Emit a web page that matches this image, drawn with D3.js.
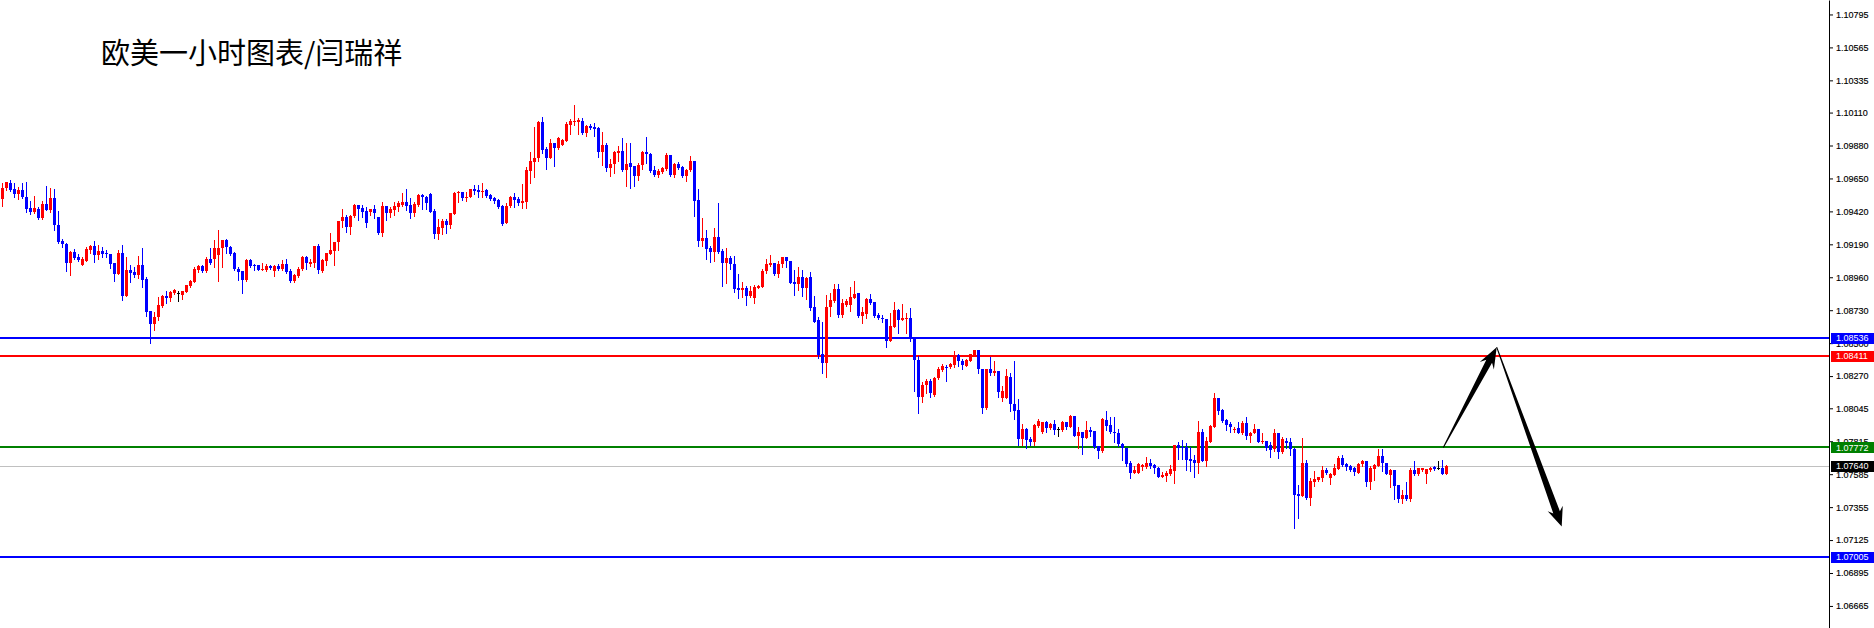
<!DOCTYPE html>
<html><head><meta charset="utf-8">
<script src="https://cdn.jsdelivr.net/npm/d3@7"></script>
<style>
html,body{margin:0;padding:0;background:#fff;overflow:hidden;}
svg{display:block;}
</style></head><body>
<svg id="chart" width="1874" height="628"></svg>
<script>
const title = "欧美一小时图表/闫瑞祥";

const open = [
1.09504,1.09581,1.09616,1.09574,1.09544,1.09569,1.09518,1.09444,1.09418,1.09434,
1.09374,1.09472,1.09430,1.09514,1.09323,1.09213,1.09192,1.09061,1.09136,1.09101,
1.09047,1.09075,1.09152,1.09178,1.09113,1.09143,1.09129,1.09124,1.09057,1.08980,
1.09127,1.08831,1.09010,1.08996,1.08975,1.09043,1.08947,1.08721,1.08635,1.08686,
1.08761,1.08828,1.08817,1.08847,1.08847,1.08835,1.08859,1.08898,1.08929,1.09010,
1.09038,1.09005,1.09087,1.09089,1.09117,1.09162,1.09220,1.09173,1.09129,1.09015,
1.09003,1.08940,1.09082,1.09045,1.09043,1.09010,1.09010,1.09036,1.09001,1.09038,
1.09015,1.09050,1.09003,1.08937,1.08972,1.09015,1.09101,1.09052,1.09059,1.09178,
1.09007,1.09075,1.09119,1.09145,1.09203,1.09352,1.09383,1.09313,1.09387,1.09464,
1.09446,1.09425,1.09418,1.09436,1.09383,1.09271,1.09457,1.09411,1.09429,1.09452,
1.09464,1.09485,1.09464,1.09411,1.09464,1.09534,1.09522,1.09539,1.09422,1.09261,
1.09306,1.09352,1.09324,1.09404,1.09546,1.09553,1.09515,1.09522,1.09576,1.09569,
1.09560,1.09569,1.09532,1.09515,1.09499,1.09457,1.09341,1.09457,1.09522,1.09506,
1.09478,1.09487,1.09704,1.09767,1.09790,1.10047,1.09853,1.09795,1.09895,1.09865,
1.09884,1.09914,1.10026,1.10047,1.10047,1.10051,1.09970,1.10019,1.10012,1.10002,
1.09835,1.09884,1.09725,1.09753,1.09830,1.09842,1.09709,1.09758,1.09737,1.09667,
1.09744,1.09837,1.09823,1.09709,1.09674,1.09697,1.09716,1.09814,1.09674,1.09751,
1.09732,1.09667,1.09709,1.09772,1.09499,1.09215,1.09236,1.09166,1.09138,1.09243,
1.09143,1.09062,1.09097,1.09052,1.08885,1.08871,1.08885,1.08831,1.08817,1.08887,
1.08894,1.09001,1.09045,1.09062,1.08982,1.09050,1.09104,1.09076,1.08929,1.08910,
1.08964,1.08882,1.08964,1.08749,1.08661,1.08423,1.08358,1.08749,1.08796,1.08878,
1.08696,1.08766,1.08766,1.08817,1.08847,1.08691,1.08701,1.08808,1.08784,1.08696,
1.08675,1.08670,1.08516,1.08614,1.08731,1.08661,1.08668,1.08673,1.08533,1.08383,
1.08127,1.08208,1.08239,1.08138,1.08255,1.08313,1.08336,1.08332,1.08346,1.08416,
1.08376,1.08341,1.08376,1.08418,1.08453,1.08320,1.08050,1.08320,1.08295,1.08306,
1.08120,1.08115,1.08267,1.08076,1.08034,1.07831,1.07901,1.07831,1.07812,1.07924,
1.07878,1.07948,1.07908,1.07936,1.07901,1.07894,1.07948,1.07917,1.07992,1.07854,
1.07878,1.07836,1.07894,1.07887,1.07782,1.07750,1.07964,1.07929,1.07880,1.07871,
1.07796,1.07766,1.07661,1.07596,1.07596,1.07638,1.07633,1.07666,1.07649,1.07631,
1.07568,1.07572,1.07586,1.07610,1.07789,1.07777,1.07777,1.07691,1.07684,1.07666,
1.07882,1.07680,1.07812,1.07917,1.08115,1.08034,1.07964,1.07936,1.07899,1.07906,
1.07871,1.07941,1.07852,1.07871,1.07901,1.07808,1.07817,1.07789,1.07760,1.07871,
1.07738,1.07817,1.07812,1.07762,1.07445,1.07436,1.07661,1.07422,1.07533,1.07545,
1.07561,1.07615,1.07561,1.07580,1.07622,1.07696,1.07657,1.07643,1.07627,1.07596,
1.07655,1.07678,1.07533,1.07620,1.07643,1.07713,1.07661,1.07580,1.07615,1.07510,
1.07412,1.07440,1.07412,1.07615,1.07587,1.07615,1.07585,1.07615,1.07636,1.07627,
1.07627,1.07589];

const high = [
1.09616,1.09623,1.09639,1.09621,1.09593,1.09616,1.09623,1.09490,1.09528,1.09453,
1.09490,1.09597,1.09583,1.09574,1.09423,1.09225,1.09197,1.09145,1.09155,1.09120,
1.09103,1.09169,1.09185,1.09213,1.09185,1.09171,1.09150,1.09124,1.09057,1.09150,
1.09185,1.09103,1.09045,1.09029,1.09108,1.09162,1.08964,1.08721,1.08719,1.08819,
1.08835,1.08861,1.08866,1.08875,1.08863,1.08863,1.08905,1.08940,1.09029,1.09045,
1.09045,1.09099,1.09164,1.09220,1.09290,1.09220,1.09227,1.09180,1.09138,1.09034,
1.09003,1.09087,1.09087,1.09050,1.09043,1.09057,1.09052,1.09045,1.09045,1.09050,
1.09080,1.09087,1.09017,1.08981,1.09029,1.09108,1.09106,1.09085,1.09178,1.09192,
1.09086,1.09131,1.09266,1.09208,1.09352,1.09436,1.09394,1.09394,1.09471,1.09464,
1.09464,1.09448,1.09436,1.09464,1.09383,1.09485,1.09457,1.09448,1.09487,1.09492,
1.09546,1.09578,1.09511,1.09487,1.09541,1.09541,1.09527,1.09546,1.09434,1.09364,
1.09364,1.09364,1.09406,1.09557,1.09562,1.09553,1.09557,1.09576,1.09604,1.09604,
1.09616,1.09574,1.09539,1.09522,1.09506,1.09464,1.09480,1.09529,1.09550,1.09522,
1.09611,1.09732,1.09837,1.10012,1.10051,1.10082,1.09872,1.09925,1.09900,1.09942,
1.09923,1.10042,1.10063,1.10163,1.10070,1.10070,1.10023,1.10030,1.10040,1.10007,
1.09974,1.09895,1.09783,1.09842,1.09877,1.09930,1.09895,1.09900,1.09737,1.09760,
1.09842,1.09942,1.09830,1.09737,1.09713,1.09732,1.09830,1.09814,1.09760,1.09762,
1.09739,1.09713,1.09807,1.09772,1.09576,1.09376,1.09289,1.09178,1.09306,1.09476,
1.09155,1.09162,1.09108,1.09108,1.08982,1.08929,1.08901,1.08899,1.08906,1.08906,
1.09015,1.09085,1.09115,1.09062,1.09073,1.09104,1.09104,1.09076,1.09010,1.09034,
1.09010,1.08964,1.08999,1.08831,1.08684,1.08649,1.08836,1.08847,1.08913,1.08913,
1.08805,1.08805,1.08889,1.08934,1.08847,1.08754,1.08812,1.08843,1.08784,1.08712,
1.08696,1.08670,1.08712,1.08789,1.08738,1.08773,1.08712,1.08742,1.08533,1.08413,
1.08232,1.08250,1.08250,1.08262,1.08336,1.08355,1.08348,1.08360,1.08447,1.08423,
1.08388,1.08388,1.08425,1.08453,1.08453,1.08320,1.08320,1.08402,1.08376,1.08306,
1.08202,1.08320,1.08290,1.08372,1.08111,1.07936,1.07910,1.07847,1.07936,1.07969,
1.07952,1.07957,1.07941,1.07964,1.07917,1.07959,1.07952,1.07997,1.07992,1.07917,
1.07882,1.07957,1.07917,1.07887,1.07782,1.07976,1.08027,1.07987,1.07983,1.07901,
1.07801,1.07766,1.07677,1.07642,1.07666,1.07656,1.07703,1.07689,1.07656,1.07638,
1.07603,1.07610,1.07649,1.07789,1.07812,1.07824,1.07805,1.07777,1.07719,1.07959,
1.07901,1.07847,1.07929,1.08155,1.08115,1.08041,1.07969,1.07948,1.07917,1.07952,
1.07957,1.07983,1.07882,1.07934,1.07901,1.07875,1.07817,1.07812,1.07899,1.07875,
1.07843,1.07836,1.07841,1.07771,1.07510,1.07836,1.07685,1.07557,1.07610,1.07568,
1.07643,1.07627,1.07592,1.07657,1.07715,1.07720,1.07666,1.07650,1.07634,1.07661,
1.07685,1.07678,1.07643,1.07655,1.07759,1.07759,1.07666,1.07620,1.07615,1.07510,
1.07475,1.07533,1.07627,1.07678,1.07627,1.07627,1.07622,1.07634,1.07643,1.07678,
1.07685,1.07650];

const low = [
1.09460,1.09569,1.09565,1.09518,1.09504,1.09511,1.09418,1.09402,1.09406,1.09369,
1.09369,1.09430,1.09416,1.09290,1.09201,1.09169,1.09005,1.08975,1.09089,1.09073,
1.09047,1.09075,1.09127,1.09068,1.09085,1.09103,1.09103,1.09026,1.08936,1.08980,
1.08803,1.08826,1.08929,1.08959,1.08952,1.08894,1.08693,1.08502,1.08591,1.08661,
1.08754,1.08777,1.08796,1.08840,1.08796,1.08807,1.08859,1.08894,1.08929,1.08994,
1.08998,1.08998,1.09050,1.09029,1.08936,1.09029,1.09131,1.09117,1.09010,1.08940,
1.08852,1.08933,1.09031,1.09008,1.09010,1.09010,1.09005,1.09017,1.08969,1.09010,
1.09010,1.08992,1.08927,1.08929,1.08960,1.09010,1.09015,1.09038,1.09029,1.08992,
1.08995,1.09045,1.09119,1.09045,1.09150,1.09313,1.09278,1.09261,1.09383,1.09359,
1.09378,1.09313,1.09394,1.09376,1.09261,1.09247,1.09359,1.09378,1.09394,1.09422,
1.09457,1.09429,1.09376,1.09387,1.09459,1.09439,1.09434,1.09418,1.09236,1.09229,
1.09259,1.09271,1.09306,1.09401,1.09487,1.09499,1.09494,1.09518,1.09541,1.09522,
1.09518,1.09518,1.09499,1.09480,1.09446,1.09324,1.09341,1.09448,1.09448,1.09464,
1.09441,1.09441,1.09620,1.09662,1.09772,1.09830,1.09716,1.09790,1.09737,1.09858,
1.09884,1.09914,1.09960,1.10023,1.09960,1.09958,1.09946,1.09993,1.09946,1.09802,
1.09744,1.09704,1.09667,1.09688,1.09772,1.09702,1.09597,1.09585,1.09597,1.09639,
1.09713,1.09755,1.09692,1.09667,1.09662,1.09690,1.09709,1.09667,1.09658,1.09713,
1.09658,1.09634,1.09704,1.09387,1.09180,1.09180,1.09091,1.09068,1.09075,1.09126,
1.08901,1.08917,1.09015,1.08854,1.08817,1.08824,1.08766,1.08824,1.08782,1.08882,
1.08894,1.08992,1.09038,1.08975,1.08964,1.09034,1.09034,1.08922,1.08836,1.08871,
1.08829,1.08805,1.08731,1.08649,1.08393,1.08295,1.08265,1.08691,1.08789,1.08680,
1.08684,1.08759,1.08726,1.08812,1.08684,1.08642,1.08673,1.08773,1.08680,1.08666,
1.08645,1.08474,1.08516,1.08614,1.08568,1.08661,1.08572,1.08516,1.08169,1.08015,
1.08092,1.08155,1.08127,1.08134,1.08250,1.08306,1.08239,1.08325,1.08335,1.08342,
1.08320,1.08337,1.08372,1.08411,1.08295,1.08015,1.08041,1.08278,1.08278,1.08127,
1.08097,1.08115,1.08027,1.07969,1.07789,1.07789,1.07771,1.07789,1.07789,1.07917,
1.07871,1.07882,1.07899,1.07866,1.07852,1.07889,1.07901,1.07913,1.07854,1.07766,
1.07726,1.07836,1.07852,1.07766,1.07701,1.07743,1.07894,1.07871,1.07808,1.07784,
1.07684,1.07645,1.07561,1.07591,1.07596,1.07614,1.07626,1.07626,1.07596,1.07568,
1.07563,1.07540,1.07579,1.07526,1.07691,1.07691,1.07614,1.07610,1.07568,1.07591,
1.07677,1.07642,1.07812,1.07917,1.08004,1.07952,1.07894,1.07882,1.07882,1.07871,
1.07864,1.07831,1.07812,1.07871,1.07808,1.07801,1.07754,1.07708,1.07748,1.07701,
1.07731,1.07766,1.07719,1.07207,1.07277,1.07436,1.07412,1.07370,1.07503,1.07538,
1.07540,1.07585,1.07517,1.07580,1.07622,1.07645,1.07615,1.07610,1.07580,1.07596,
1.07643,1.07503,1.07482,1.07545,1.07643,1.07610,1.07587,1.07498,1.07412,1.07389,
1.07387,1.07405,1.07401,1.07580,1.07580,1.07610,1.07526,1.07610,1.07615,1.07620,
1.07589,1.07589];

const close = [
1.09581,1.09623,1.09569,1.09544,1.09569,1.09518,1.09439,1.09413,1.09444,1.09376,
1.09472,1.09430,1.09514,1.09323,1.09208,1.09190,1.09061,1.09136,1.09096,1.09080,
1.09087,1.09157,1.09178,1.09113,1.09143,1.09122,1.09120,1.09050,1.08984,1.09127,
1.08831,1.09008,1.08991,1.08975,1.09045,1.08943,1.08717,1.08635,1.08686,1.08765,
1.08826,1.08812,1.08854,1.08868,1.08847,1.08861,1.08905,1.08933,1.09020,1.09038,
1.09005,1.09089,1.09059,1.09162,1.09164,1.09220,1.09173,1.09124,1.09015,1.08996,
1.08940,1.09082,1.09040,1.09038,1.09010,1.09017,1.09036,1.09022,1.09038,1.09017,
1.09050,1.08996,1.08933,1.08976,1.09020,1.09103,1.09057,1.09064,1.09178,1.09008,
1.09081,1.09131,1.09150,1.09208,1.09352,1.09383,1.09313,1.09390,1.09464,1.09436,
1.09415,1.09341,1.09436,1.09406,1.09271,1.09457,1.09411,1.09439,1.09459,1.09480,
1.09483,1.09457,1.09411,1.09469,1.09534,1.09518,1.09476,1.09418,1.09261,1.09310,
1.09352,1.09324,1.09406,1.09550,1.09557,1.09511,1.09522,1.09576,1.09564,1.09555,
1.09564,1.09527,1.09508,1.09494,1.09452,1.09331,1.09457,1.09522,1.09499,1.09476,
1.09492,1.09709,1.09772,1.09793,1.10047,1.09849,1.09793,1.09895,1.09865,1.09930,
1.09918,1.10030,1.10051,1.10054,1.10058,1.09965,1.10019,1.10005,1.09998,1.09835,
1.09884,1.09723,1.09751,1.09837,1.09842,1.09709,1.09751,1.09732,1.09667,1.09744,
1.09837,1.09818,1.09704,1.09676,1.09704,1.09725,1.09814,1.09674,1.09751,1.09725,
1.09667,1.09709,1.09772,1.09492,1.09215,1.09236,1.09154,1.09138,1.09238,1.09138,
1.09062,1.09097,1.09050,1.08878,1.08873,1.08882,1.08831,1.08864,1.08894,1.08901,
1.09006,1.09052,1.09062,1.08982,1.09052,1.09104,1.09073,1.08922,1.08910,1.08964,
1.08887,1.08957,1.08747,1.08649,1.08416,1.08358,1.08754,1.08801,1.08878,1.08696,
1.08777,1.08796,1.08824,1.08845,1.08691,1.08719,1.08808,1.08782,1.08691,1.08673,
1.08668,1.08516,1.08619,1.08731,1.08661,1.08673,1.08673,1.08528,1.08381,1.08127,
1.08208,1.08239,1.08150,1.08255,1.08320,1.08343,1.08327,1.08355,1.08416,1.08374,
1.08344,1.08383,1.08423,1.08453,1.08318,1.08050,1.08320,1.08290,1.08306,1.08162,
1.08167,1.08271,1.08073,1.08029,1.07831,1.07901,1.07824,1.07812,1.07929,1.07959,
1.07948,1.07910,1.07936,1.07894,1.07901,1.07952,1.07913,1.07992,1.07854,1.07878,
1.07836,1.07894,1.07882,1.07777,1.07750,1.07969,1.07924,1.07878,1.07871,1.07794,
1.07766,1.07656,1.07596,1.07614,1.07656,1.07649,1.07666,1.07642,1.07631,1.07568,
1.07579,1.07596,1.07621,1.07789,1.07771,1.07773,1.07684,1.07680,1.07666,1.07882,
1.07680,1.07817,1.07922,1.08115,1.08029,1.07959,1.07929,1.07913,1.07901,1.07875,
1.07945,1.07854,1.07875,1.07901,1.07812,1.07819,1.07771,1.07754,1.07871,1.07738,
1.07829,1.07805,1.07761,1.07440,1.07436,1.07661,1.07417,1.07538,1.07552,1.07564,
1.07615,1.07592,1.07587,1.07627,1.07696,1.07650,1.07634,1.07615,1.07603,1.07657,
1.07678,1.07533,1.07627,1.07650,1.07713,1.07661,1.07587,1.07615,1.07505,1.07412,
1.07440,1.07412,1.07615,1.07587,1.07627,1.07627,1.07622,1.07631,1.07622,1.07627,
1.07589,1.07640];

const tickValues = [1.10795,1.10565,1.10335,1.10110,1.09880,1.09650,1.09420,1.09190,1.08960,1.08730,
  1.08500,1.08270,1.08045,1.07815,1.07585,1.07355,1.07125,1.06895,1.06665];

const levelPrices = [1.08536, 1.08411, 1.07772, 1.07005];
const levelColors = ["#0000ff", "#ff0000", "#008000", "#0000ff"];
const bidPrice = 1.07640;

// arrows: [barIndex, price] from / to
const arrowFrom = [[360.2, 1.07772], [373.55, 1.08472]];
const arrowTo   = [[373.55, 1.08472], [389.8, 1.07220]];

const W = 1874, H = 628, axisX = 1829;
const svg = d3.select("#chart");
svg.append("rect").attr("width", W).attr("height", H).attr("fill", "#fff");

const y = d3.scaleLinear().domain([1.06511, 1.10896]).range([H, 0]);
const x = d3.scaleLinear().domain([0, 100]).range([2.5, 402.5]);

const bars = open.map((o, i) => ({i, o, h: high[i], l: low[i], c: close[i]}));
const colorOf = d => d.c > d.o ? "#ff0000" : (d.c < d.o ? "#0000ff" : "#000000");

// level lines
const lv = svg.append("g");
levelPrices.forEach((p, k) => {
  const yy = Math.round(y(p));
  lv.append("rect").attr("x", 0).attr("width", axisX).attr("y", yy - 1).attr("height", 2)
    .attr("fill", levelColors[k]).attr("shape-rendering", "crispEdges");
});
lv.append("rect").attr("x", 0).attr("width", axisX).attr("y", Math.round(y(bidPrice)) - 0.5).attr("height", 1)
  .attr("fill", "#c0c0c0").attr("shape-rendering", "crispEdges");

// candles
const cg = svg.append("g").attr("shape-rendering", "crispEdges");
cg.selectAll("rect.wick").data(bars).join("rect").attr("class", "wick")
  .attr("x", d => x(d.i) - 0.5).attr("width", 1)
  .attr("y", d => Math.round(y(d.h)))
  .attr("height", d => Math.max(1, Math.round(y(d.l)) - Math.round(y(d.h)) + 1))
  .attr("fill", colorOf);
cg.selectAll("rect.body").data(bars).join("rect").attr("class", "body")
  .attr("x", d => x(d.i) - 1.5).attr("width", 3)
  .attr("y", d => Math.round(y(Math.max(d.o, d.c))))
  .attr("height", d => Math.max(1, Math.round(y(Math.min(d.o, d.c))) - Math.round(y(Math.max(d.o, d.c)))))
  .attr("fill", colorOf);

// arrows
function arrowPoly(x0, y0, x1, y1, w0, w1, hl, hw, notch) {
  const dx = x1 - x0, dy = y1 - y0, L = Math.hypot(dx, dy);
  const ux = dx / L, uy = dy / L, nx = -uy, ny = ux;
  const bx = x1 - ux * hl, by = y1 - uy * hl;
  const pts = [
    [x0 + nx * w0 / 2, y0 + ny * w0 / 2],
    [bx + nx * w1 / 2, by + ny * w1 / 2],
    [bx - ux * notch + nx * hw, by - uy * notch + ny * hw],
    [x1, y1],
    [bx - ux * notch - nx * hw, by - uy * notch - ny * hw],
    [bx - nx * w1 / 2, by - ny * w1 / 2],
    [x0 - nx * w0 / 2, y0 - ny * w0 / 2]
  ];
  return "M" + pts.map(p => p[0].toFixed(2) + "," + p[1].toFixed(2)).join("L") + "Z";
}
const ag = svg.append("g");
const arrowStyle = [[1, 6.5, 16, 8, 5], [1, 7, 15, 8, 4]];
arrowFrom.forEach((f, k) => {
  const t = arrowTo[k], s = arrowStyle[k];
  ag.append("path").attr("d", arrowPoly(x(f[0]), y(f[1]), x(t[0]), y(t[1]), s[0], s[1], s[2], s[3], s[4]))
    .attr("fill", "#000");
});

// right axis
const axisG = svg.append("g").attr("transform", `translate(${axisX},0)`)
  .call(d3.axisRight(y).tickValues(tickValues).tickSize(4).tickSizeOuter(0).tickPadding(3)
        .tickFormat(d => d.toFixed(5)));
axisG.select(".domain").attr("stroke", "#000");
axisG.selectAll(".tick line").attr("stroke", "#000");
axisG.selectAll(".tick text").attr("font-family", "'Liberation Sans', Arial, sans-serif")
  .attr("font-size", "9px").attr("fill", "#000").attr("stroke", "#000").attr("stroke-width", 0.15);

// level label boxes
const boxG = svg.append("g");
const boxes = levelPrices.map((p, k) => ({p, c: levelColors[k]})).concat([{p: bidPrice, c: "#000000"}]);
boxes.forEach(b => {
  const yy = y(b.p);
  boxG.append("rect").attr("x", axisX + 2).attr("y", Math.round(yy) - 5.5).attr("width", W - axisX - 2)
    .attr("height", 11).attr("fill", b.c).attr("shape-rendering", "crispEdges");
  boxG.append("text").attr("x", axisX + 7).attr("y", yy).attr("dy", "0.35em")
    .attr("font-family", "'Liberation Sans', Arial, sans-serif").attr("font-size", "9px")
    .attr("fill", "#fff").text(b.p.toFixed(5));
});

// title
svg.append("text").attr("x", 101).attr("y", 64)
  .attr("font-family", "'Noto Sans CJK SC', 'Noto Sans', sans-serif")
  .attr("font-size", "29px").attr("fill", "#000").text(title);
</script>
</body></html>
